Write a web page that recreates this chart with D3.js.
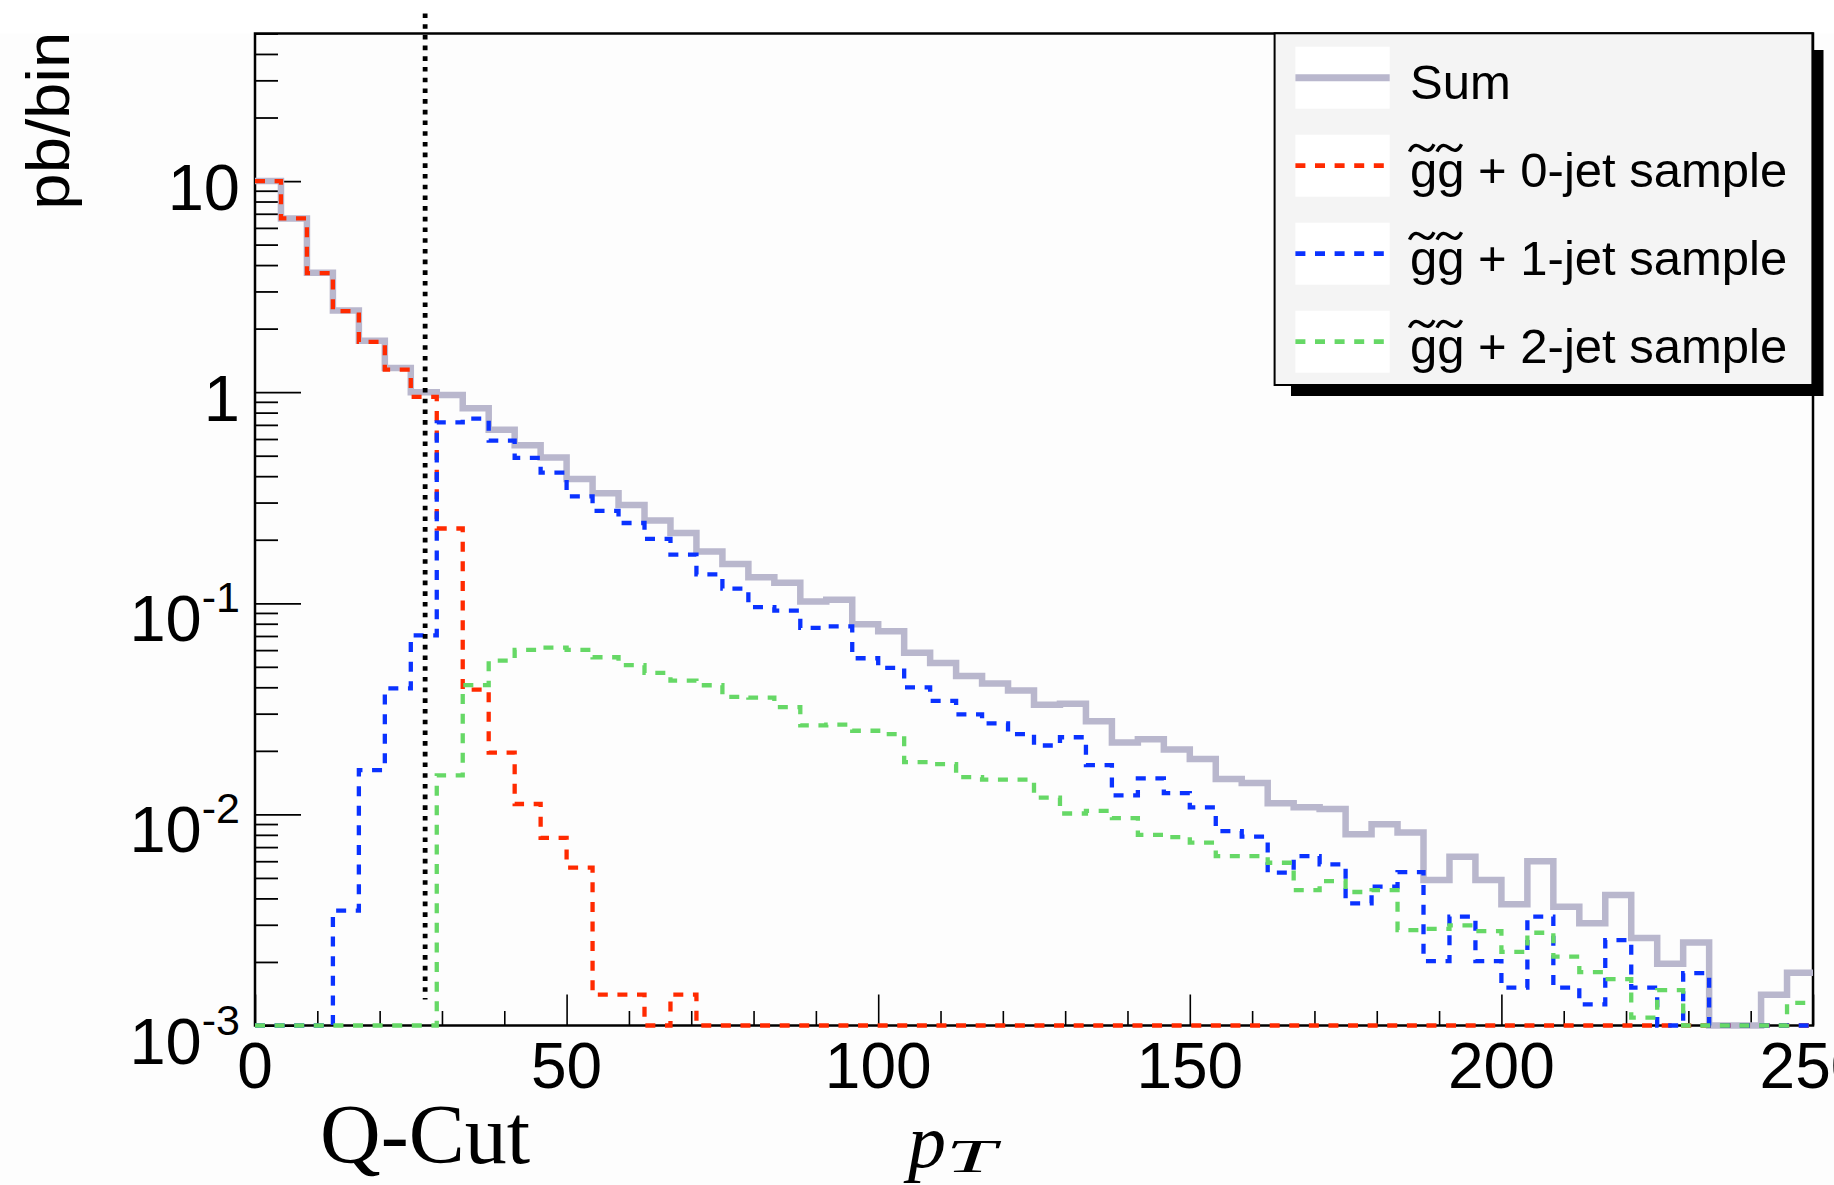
<!DOCTYPE html>
<html>
<head>
<meta charset="utf-8">
<script src="https://cdn.jsdelivr.net/npm/d3@7"></script>
<style>
  body { margin: 0; background: #fff; }
  svg { display: block; }
</style>
</head>
<body>
<div id="chart"></div>
<script>
// jet pT spectrum, 60 bins between 0 and 250, log y axis
const nBins = 60;
const xMin = 0, xMax = 250;
const yMin = 1e-3, yMax = 50;
const qCut = 27.3;

const sumVals = [
  10.0, 6.65, 3.68, 2.44, 1.75, 1.30, 1.00, 0.97, 0.84, 0.663,
  0.56, 0.49, 0.388, 0.332, 0.292, 0.247, 0.215, 0.176, 0.1535, 0.1327,
  0.125, 0.102, 0.104, 0.0796, 0.0737, 0.0583, 0.0522, 0.0452, 0.0417, 0.0386,
  0.0331, 0.0334, 0.0276, 0.0219, 0.0227, 0.0203, 0.0183, 0.0147, 0.0141, 0.0113,
  0.0108, 0.0106, 0.00805, 0.00898, 0.0082, 0.00489, 0.0063, 0.00489, 0.00375, 0.0060,
  0.00365, 0.00305, 0.00415, 0.0026, 0.00196, 0.00247, 0, 0, 0.0014, 0.00178
];
const jet0Vals = [
  10.0, 6.65, 3.66, 2.42, 1.73, 1.28, 0.95, 0.226, 0.039, 0.0196,
  0.0112, 0.00774, 0.0056, 0.0014, 0.0014, 0, 0.0014, 0, 0, 0,
  0, 0, 0, 0, 0, 0, 0, 0, 0, 0,
  0, 0, 0, 0, 0, 0, 0, 0, 0, 0,
  0, 0, 0, 0, 0, 0, 0, 0, 0, 0,
  0, 0, 0, 0, 0, 0, 0, 0, 0, 0
];
const jet1Vals = [
  0, 0, 0, 0.0035, 0.0162, 0.0395, 0.0705, 0.72, 0.75, 0.589,
  0.488, 0.416, 0.321, 0.274, 0.24, 0.202, 0.17, 0.137, 0.1174, 0.0958,
  0.0924, 0.0764, 0.0777, 0.0549, 0.0494, 0.040, 0.0345, 0.0298, 0.027, 0.024,
  0.0212, 0.0232, 0.0171, 0.0123, 0.0148, 0.0126, 0.0108, 0.00834, 0.00785, 0.0053,
  0.00635, 0.0058, 0.00379, 0.00455, 0.00533, 0.00202, 0.00328, 0.00202, 0.00151, 0.00328,
  0.00151, 0.00126, 0.00254, 0.00151, 0, 0.00177, 0, 0, 0, 0
];
const jet2Vals = [
  0, 0, 0, 0, 0, 0, 0, 0.0153, 0.041, 0.0535,
  0.0602, 0.0617, 0.0602, 0.0555, 0.0509, 0.0468, 0.043, 0.0409, 0.036, 0.0357,
  0.0322, 0.0264, 0.0266, 0.0249, 0.024, 0.0177, 0.0173, 0.015, 0.0146, 0.0146,
  0.012, 0.0101, 0.0104, 0.0096, 0.008, 0.0078, 0.00735, 0.00635, 0.00635, 0.0059,
  0.00438, 0.00483, 0.00429, 0.00438, 0.00283, 0.00287, 0.00298, 0.0028, 0.00223, 0.00275,
  0.00212, 0.00179, 0.00166, 0.00109, 0.00147, 0, 0, 0, 0, 0.00128
];

const xTicks = [0, 50, 100, 150, 200, 250];
const xTickLabels = ["0", "50", "100", "150", "200", "250"];
const yDecades = [1e-3, 1e-2, 1e-1, 1, 10];
const yTickBase = ["10", "10", "10", "1", "10"];
const yTickExp = ["-3", "-2", "-1", "", ""];
// "gg" gets a tilde drawn over each letter (gluino pair)
const legendLabels = ["Sum", "gg + 0-jet sample", "gg + 1-jet sample", "gg + 2-jet sample"];
const legendTilde = [false, true, true, true];

const series = [
  { values: sumVals,  color: "#b9b7cd", width: 6.5, dash: null },
  { values: jet0Vals, color: "#ff2a00", width: 4.3, dash: "10 9.6" },
  { values: jet1Vals, color: "#0a32ff", width: 4.3, dash: "10 9.6" },
  { values: jet2Vals, color: "#66d866", width: 4.3, dash: "10 9.6" }
];

const width = 1834, height = 1185;
const margin = { top: 33.5, right: 21, bottom: 159.5, left: 255 };
const innerWidth = width - margin.left - margin.right;
const innerHeight = height - margin.top - margin.bottom;

const x = d3.scaleLinear().domain([xMin, xMax]).range([0, innerWidth]);
const y = d3.scaleLog().domain([yMin, yMax]).range([innerHeight, 0]);

const edges = d3.range(nBins + 1).map(i => xMin + i * (xMax - xMin) / nBins);

const svg = d3.create("svg")
  .attr("width", width)
  .attr("height", height)
  .style("font-family", "'Liberation Sans', Arial, Helvetica, sans-serif");

// background, very slightly off-white like the ROOT canvas
svg.append("rect").attr("width", width).attr("height", height).attr("fill", "#fdfdfd");
svg.append("rect").attr("width", width).attr("height", margin.top).attr("fill", "#fff");

const g = svg.append("g")
  .attr("transform", `translate(${margin.left},${margin.top})`);

// y ticks (inside the frame)
const isDecade = v => Math.abs(Math.log10(v) - Math.round(Math.log10(v))) < 1e-6;
const yMinor = y.ticks().filter(v => !isDecade(v));

g.append("g")
  .call(d3.axisLeft(y).tickValues(yMinor).tickSize(-23).tickFormat(""))
  .call(a => a.select(".domain").remove())
  .selectAll("line").attr("stroke", "#000").attr("stroke-width", 1.8);

g.append("g")
  .call(d3.axisLeft(y).tickValues(yDecades).tickSize(-46).tickFormat(""))
  .call(a => a.select(".domain").remove())
  .selectAll("line").attr("stroke", "#000").attr("stroke-width", 1.8);

// x ticks
const xMinor = d3.range(10, xMax, 10).filter(v => v % 50 !== 0);
g.append("g")
  .attr("transform", `translate(0,${innerHeight})`)
  .call(d3.axisBottom(x).tickValues(xMinor).tickSize(-14.5).tickFormat(""))
  .call(a => a.select(".domain").remove())
  .selectAll("line").attr("stroke", "#000").attr("stroke-width", 1.6);

g.append("g")
  .attr("transform", `translate(0,${innerHeight})`)
  .call(d3.axisBottom(x).tickValues(xTicks).tickSize(-31).tickFormat(""))
  .call(a => a.select(".domain").remove())
  .selectAll("line").attr("stroke", "#000").attr("stroke-width", 1.6);

// frame
g.append("rect")
  .attr("width", innerWidth)
  .attr("height", innerHeight)
  .attr("fill", "none")
  .attr("stroke", "#000")
  .attr("stroke-width", 2.5);

// y labels, 10^n written with a superscript
const yLab = g.append("g").attr("font-size", 65).attr("fill", "#000");
yDecades.forEach((v, i) => {
  const t = yLab.append("text")
    .attr("x", -15)
    .attr("y", y(v) + (yTickExp[i] ? 38 : 29))
    .attr("text-anchor", "end");
  t.append("tspan").text(yTickBase[i]);
  if (yTickExp[i]) {
    t.append("tspan").attr("dy", -29).attr("font-size", 43).text(yTickExp[i]);
  }
});

// x labels
g.append("g").attr("font-size", 64)
  .selectAll("text")
  .data(xTicks)
  .join("text")
    .attr("x", d => x(d))
    .attr("y", innerHeight + 62.5)
    .attr("text-anchor", "middle")
    .text((d, i) => xTickLabels[i]);

// histograms as step lines
const line = d3.line()
  .x(d => x(d[0]))
  .y(d => y(Math.max(d[1], yMin)))
  .curve(d3.curveStepAfter);

series.forEach(s => {
  const pts = s.values.map((v, i) => [edges[i], v]);
  pts.push([xMax, s.values[nBins - 1]]);
  g.append("path")
    .attr("d", line(pts))
    .attr("fill", "none")
    .attr("stroke", s.color)
    .attr("stroke-width", s.width)
    .attr("stroke-dasharray", s.dash)
    .attr("stroke-linejoin", "miter");
});

// Q-cut marker
g.append("line")
  .attr("x1", x(qCut)).attr("x2", x(qCut))
  .attr("y1", y(yMax) - 20)
  .attr("y2", y(yMin) - 26)
  .attr("stroke", "#000")
  .attr("stroke-width", 4.8)
  .attr("stroke-dasharray", "4.6 6.1");

// axis titles
svg.append("text")
  .attr("transform", "translate(69,120.7) rotate(-90)")
  .attr("text-anchor", "middle")
  .attr("font-size", 62)
  .attr("textLength", 178)
  .attr("lengthAdjust", "spacingAndGlyphs")
  .text("pb/bin");

svg.append("text")
  .attr("x", 320).attr("y", 1163)
  .attr("font-family", "'Liberation Serif', 'Times New Roman', serif")
  .attr("font-size", 84)
  .text("Q-Cut");

svg.append("text")
  .attr("x", 908).attr("y", 1166.5)
  .attr("font-family", "'Liberation Serif', 'Times New Roman', serif")
  .attr("font-style", "italic")
  .attr("font-size", 76)
  .text("p");
svg.append("text")
  .attr("x", 946).attr("y", 1171.7)
  .attr("font-family", "'Liberation Serif', 'Times New Roman', serif")
  .attr("font-style", "italic")
  .attr("font-size", 46)
  .attr("textLength", 50)
  .attr("lengthAdjust", "spacingAndGlyphs")
  .text("T");

// legend
const legend = svg.append("g");
legend.append("rect")
  .attr("x", 1291).attr("y", 50)
  .attr("width", 532.5).attr("height", 346)
  .attr("fill", "#000");
legend.append("rect")
  .attr("x", 1274.6).attr("y", 33.3)
  .attr("width", 537.8).attr("height", 351.7)
  .attr("fill", "#f4f4f4")
  .attr("stroke", "#000")
  .attr("stroke-width", 2);

const tilde = "M1,9 C4,2 8,1 13,5 C18,9 22,9 25.5,1.5";

series.forEach((s, i) => {
  const ry = 77.7 + i * 88;
  legend.append("rect")
    .attr("x", 1295.4).attr("y", ry - 31)
    .attr("width", 94.3).attr("height", 62)
    .attr("fill", "#fff");
  legend.append("line")
    .attr("x1", 1295.4).attr("x2", 1389.7)
    .attr("y1", ry).attr("y2", ry)
    .attr("stroke", s.color)
    .attr("stroke-width", s.dash ? 4.7 : 7)
    .attr("stroke-dasharray", s.dash);
  legend.append("text")
    .attr("x", 1410).attr("y", ry + 21)
    .attr("font-size", 49)
    .text(legendLabels[i]);
  if (legendTilde[i]) {
    [1408.5, 1436].forEach(tx => {
      legend.append("path")
        .attr("d", tilde)
        .attr("transform", `translate(${tx},${ry + 21 - 44})`)
        .attr("fill", "none")
        .attr("stroke", "#000")
        .attr("stroke-width", 3.4);
    });
  }
});

document.getElementById("chart").appendChild(svg.node());
</script>
</body>
</html>
